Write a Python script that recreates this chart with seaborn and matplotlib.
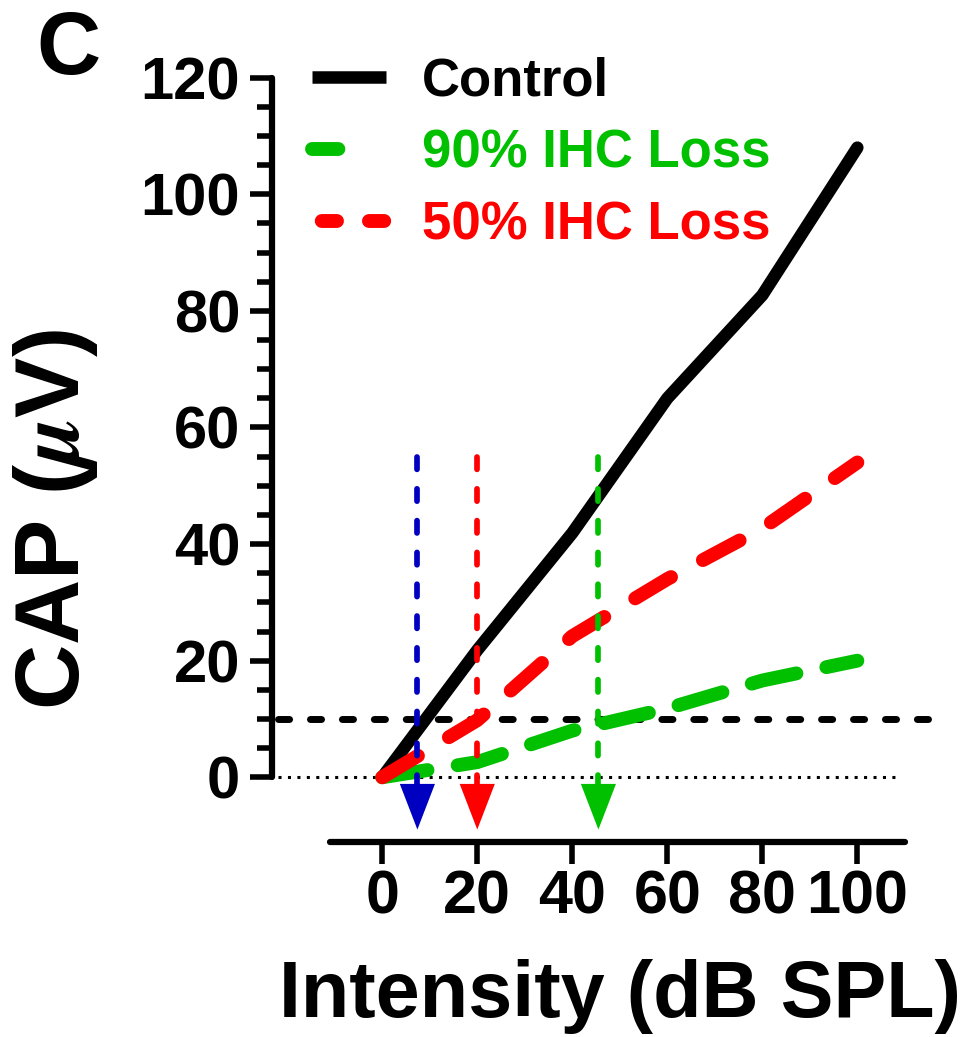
import numpy as np
import pandas as pd
import seaborn as sns
import matplotlib.pyplot as plt
from matplotlib.lines import Line2D
from matplotlib.path import Path

# CAP amplitude growth with stimulus intensity
intensity = [0, 20, 40, 60, 80, 100]
cap_control = [0, 21.8, 41.9, 65.0, 82.7, 108.0]
cap_ihc90 = [0, 2.6, 8.0, 11.8, 16.6, 20.0]
cap_ihc50 = [0, 9.8, 24.2, 34.0, 42.7, 54.0]

series_labels = ["Control", "90% IHC Loss", "50% IHC Loss"]
series_colors = ["#000000", "#00C000", "#FF0000"]

# response criterion and the intensities where each curve crosses it
criterion = 10.0
crossing_intensity = [7.4, 20.0, 45.5]
crossing_colors = ["#0000C0", "#FF0000", "#00C000"]
drop_top = 55.0
arrow_base = -1.2
arrow_tip = -8.9

x_ticks = [0, 20, 40, 60, 80, 100]
y_ticks = [0, 20, 40, 60, 80, 100, 120]
y_minor = list(range(0, 121, 5))

sns.set_theme(style="white")
plt.rcParams["font.family"] = ["Liberation Sans", "DejaVu Sans"]
plt.rcParams["font.weight"] = "bold"
plt.rcParams["mathtext.fontset"] = "stix"
plt.rcParams["lines.scale_dashes"] = False
for key in ["text.color", "axes.labelcolor", "xtick.color", "ytick.color",
            "axes.edgecolor"]:
    plt.rcParams[key] = "black"

fig = plt.figure(figsize=(9.62, 10.37), dpi=100)
W, H = 962, 1037
ax = fig.add_axes([272 / W, (H - 842) / H, 659 / W, 776 / H])
ax.set_xlim(-23.2, 115.5)
ax.set_ylim(-11.1, 122.0)

df = pd.DataFrame({"intensity": intensity, "control": cap_control,
                   "ihc90": cap_ihc90, "ihc50": cap_ihc50})

# zero baseline and criterion line
ax.plot([-21.9, 109.0], [0, 0], color="black", lw=2.2,
        linestyle=(0, (2.2, 4.6)), zorder=1, clip_on=False)
sns.lineplot(data=df, x="intensity", y="control", ax=ax, color="black",
             lw=9, solid_capstyle="round", zorder=2)
ax.plot([-21.9, 115.5], [criterion, criterion], color="black", lw=5,
        linestyle=(0, (8, 15)), dash_capstyle="round", zorder=3, clip_on=False)
sns.lineplot(data=df, x="intensity", y="ihc90", ax=ax, color=series_colors[1],
             lw=10, linestyle=(0, (33, 22)), dash_capstyle="round", zorder=4)
sns.lineplot(data=df, x="intensity", y="ihc50", ax=ax, color=series_colors[2],
             lw=10, linestyle=(0, (30, 26)), dash_capstyle="round", zorder=5)

# drop lines to the threshold intensities, ending in arrowheads
tri = Path([(-0.77, 1.0), (0.77, 1.0), (0.0, -1.0), (-0.77, 1.0)],
           [Path.MOVETO, Path.LINETO, Path.LINETO, Path.CLOSEPOLY])
for xc, col in zip(crossing_intensity, crossing_colors):
    ax.plot([xc, xc], [drop_top, arrow_base], color=col, lw=4.1,
            linestyle=(0, (8.9, 14)), dash_capstyle="round", zorder=6)
    ax.scatter([xc], [(arrow_base + arrow_tip) / 2], marker=tri, s=1080,
               color=col, edgecolors="none", zorder=7, clip_on=False)

# axes styling
for side in ["top", "right"]:
    ax.spines[side].set_visible(False)
ax.spines["left"].set_bounds(0, 120)
ax.spines["bottom"].set_bounds(-11, 110)
for side in ["left", "bottom"]:
    ax.spines[side].set_linewidth(4.5)
    ax.spines[side].set_color("black")
    ax.spines[side].set_capstyle("round")

ax.set_xticks(x_ticks)
ax.set_yticks(y_ticks)
ax.set_yticks(y_minor, minor=True)
ax.tick_params(axis="both", which="major", direction="out", length=15.8,
               width=4, color="black", bottom=True, left=True)
ax.tick_params(axis="y", which="minor", direction="out", length=10.8,
               width=4, color="black", left=True)
ax.tick_params(axis="y", which="major", labelsize=43, pad=7)
ax.tick_params(axis="x", which="major", labelsize=44, pad=4)
for lab in ax.get_xticklabels() + ax.get_yticklabels():
    lab.set_fontweight("bold")

ax.set_xlabel("Intensity (dB SPL)", fontsize=57, fontweight="bold")
ax.xaxis.set_label_coords((620 - 272) / 659, (842 - 959) / 776)
ax.set_ylabel(r"CAP ($\mu$V)", fontsize=65, fontweight="bold")
ax.yaxis.set_label_coords((100 - 272) / 659, (842 - 520) / 776)
ax.grid(False)

handles = [
    Line2D([], [], color=series_colors[0], lw=9, solid_capstyle="butt"),
    Line2D([], [], color=series_colors[1], lw=10, linestyle=(0, (19, 60)),
           dash_capstyle="round"),
    Line2D([], [], color=series_colors[2], lw=10, linestyle=(-7, (11, 23)),
           dash_capstyle="round"),
]
leg = ax.legend(handles, series_labels, loc="upper left",
                bbox_to_anchor=(312 / W, 1 - 56 / H), bbox_transform=fig.transFigure,
                frameon=False, handlelength=1.4, handletextpad=0.69,
                labelspacing=0.42, borderpad=0, borderaxespad=0,
                prop={"weight": "bold", "size": 38})
for txt, col in zip(leg.get_texts(), series_colors):
    txt.set_color(col)

fig.text(36 / W, 1 - 74 / H, "C", fontsize=64, fontweight="bold", va="baseline")

fig.savefig("out.png", dpi=100)
